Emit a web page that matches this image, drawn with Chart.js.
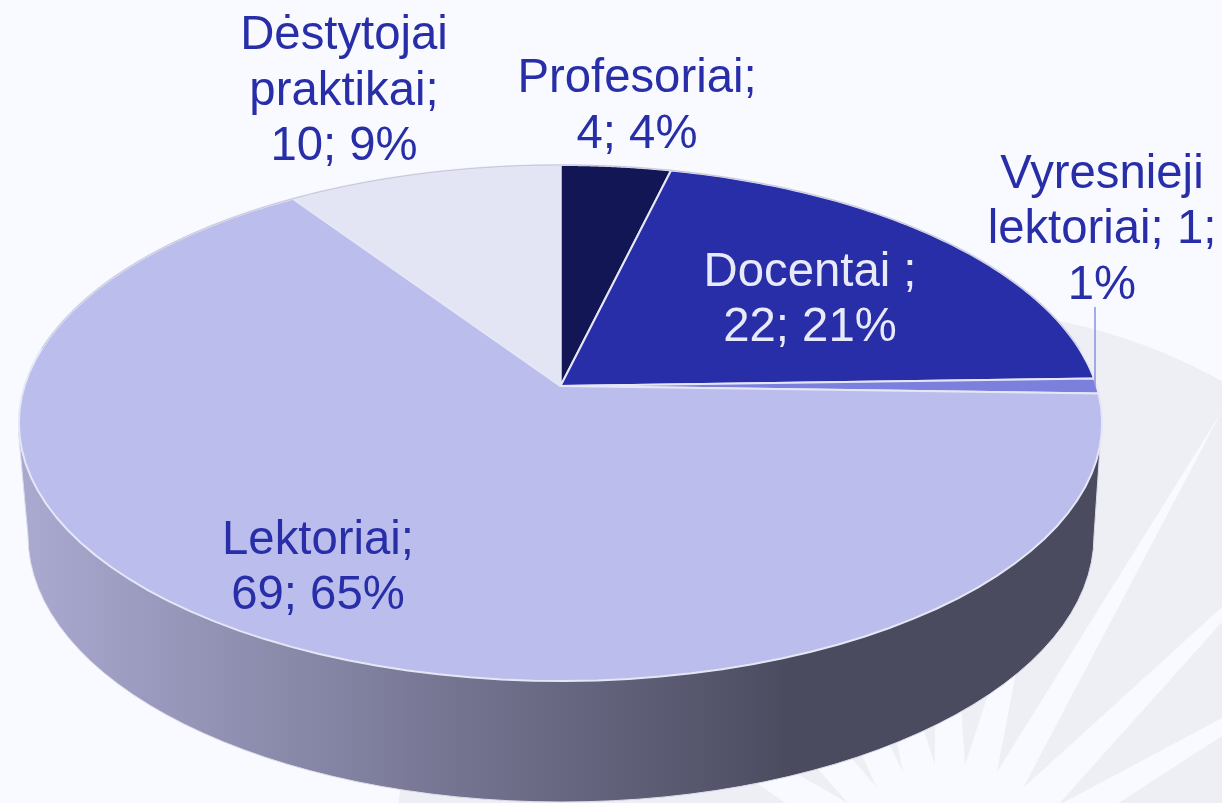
<!DOCTYPE html>
<html>
<head>
<meta charset="utf-8">
<style>
  html, body { margin: 0; padding: 0; background: #f8faff; overflow: hidden; }
  canvas { display: block; }
</style>
<script src="https://cdn.jsdelivr.net/npm/chart.js@4/dist/chart.umd.js"></script>
</head>
<body>
<canvas id="pieChart" width="1222" height="803"></canvas>
<script>
// ---- Data ----
const categories = ["Profesoriai", "Docentai", "Vyresnieji lektoriai", "Lektoriai", "Dėstytojai praktikai"];
const values = [4, 22, 1, 69, 10];
const sliceColors = ["#131654", "#282ea8", "#7b80dc", "#bbbdec", "#e3e4f4"];
const labelLines = [
  ["Profesoriai;", "4; 4%"],
  ["Docentai ;", "22; 21%"],
  ["Vyresnieji", "lektoriai; 1;", "1%"],
  ["Lektoriai;", "69; 65%"],
  ["Dėstytojai", "praktikai;", "10; 9%"]
];
const labelColors = ["#282ea8", "#e9eaf9", "#282ea8", "#282ea8", "#282ea8"];

// label anchors: centre x, first baseline y
const labelSpots = [[637, 92.3], [810, 285.5], [1102, 187.5], [318, 553.5], [344, 49]];
const lineHeight = 55.5;

// ---- Perspective of the pie plane ----
const apexX = 560.5, apexY = 386, spreadX = 536, spreadY = 252.7, tilt = 0.1434;

function project(angle) {
  const u = Math.cos(angle), v = -Math.sin(angle);
  const w = 1 + tilt * v;
  return [apexX + spreadX * u / w, apexY - spreadY * v / w];
}

// the library still calls draw for every slice, only the outline is projected
Chart.ArcElement.prototype.draw = function (ctx) {
  const opts = this.options;
  const steps = 80;
  ctx.save();
  ctx.beginPath();
  ctx.moveTo(apexX, apexY);
  for (let i = 0; i <= steps; i++) {
    const p = project(this.startAngle + (this.endAngle - this.startAngle) * i / steps);
    ctx.lineTo(p[0], p[1]);
  }
  ctx.closePath();
  ctx.fillStyle = opts.backgroundColor;
  ctx.fill();
  ctx.lineJoin = "round";
  ctx.strokeStyle = opts.borderColor;
  ctx.lineWidth = opts.borderWidth;
  ctx.stroke();
  ctx.restore();
};

// ---- Faint watermark behind the chart ----
const starX = 950, starY = 865;
const bgRays = [
  [[997, 772], [1222, 411], [1023, 788]],
  [[1023, 788], [1222, 607], [1222, 622], [1057, 806]],
  [[1057, 806], [1222, 718], [1222, 736], [1114, 806]],
  [[965, 765], [1045, 520], [997, 772]],
  [[935, 765], [935, 300], [965, 765]],
  [[903, 772], [850, 500], [935, 765]],
  [[877, 788], [855, 740], [885, 735], [903, 772]],
  [[848, 803], [810, 760], [845, 750], [877, 788]],
  [[790, 806], [755, 782], [790, 770], [848, 803]]
];

const watermark = {
  id: "watermark",
  beforeDraw(chart) {
    const ctx = chart.ctx;
    ctx.save();
    ctx.fillStyle = "#f8faff";
    ctx.fillRect(0, 0, chart.width, chart.height);
    ctx.fillStyle = "#eeeff4";
    ctx.beginPath();
    ctx.arc(starX, starY, 555, 0, Math.PI * 2);
    ctx.fill();
    ctx.fillStyle = "#f8faff";
    ctx.beginPath();
    bgRays.forEach(ray => {
      ctx.moveTo(starX, starY);
      ray.forEach(p => ctx.lineTo(p[0], p[1]));
      ctx.closePath();
    });
    ctx.fill();
    ctx.restore();
  }
};

// ---- Side wall of the 3D pie ----
const pieWall = {
  id: "pieWall",
  beforeDatasetsDraw(chart) {
    const ctx = chart.ctx;
    const grad = ctx.createLinearGradient(30, 0, 790, 0);
    grad.addColorStop(0, "#a9a9d0");
    grad.addColorStop(1, "#4b4b60");
    ctx.save();
    ctx.beginPath();
    ctx.moveTo(18.5, 432);
    ctx.lineTo(28, 536);
    ctx.ellipse(561, 536, 533, 266, 0, Math.PI, 0, true);
    ctx.lineTo(1101, 432);
    ctx.closePath();
    ctx.fillStyle = grad;
    ctx.fill();
    ctx.strokeStyle = "#dcdcea";
    ctx.lineWidth = 1;
    ctx.stroke();
    ctx.restore();
  },
  afterDatasetsDraw(chart) {
    // thin grey edge along the back of the top face
    const ctx = chart.ctx;
    ctx.save();
    ctx.beginPath();
    for (let i = 0; i <= 160; i++) {
      const p = project(Math.PI + 0.15 + (Math.PI - 0.3) * i / 160);
      i ? ctx.lineTo(p[0], p[1]) : ctx.moveTo(p[0], p[1]);
    }
    ctx.strokeStyle = "#c6c7d6";
    ctx.lineWidth = 1;
    ctx.stroke();
    ctx.restore();
  }
};

// ---- Labels and the leader line ----
const pieLabels = {
  id: "pieLabels",
  afterDraw(chart) {
    const ctx = chart.ctx;
    ctx.save();
    ctx.strokeStyle = "#8a8fe0";
    ctx.lineWidth = 1.5;
    ctx.beginPath();
    ctx.moveTo(1095, 307);
    ctx.lineTo(1095, 386);
    ctx.stroke();
    ctx.font = '47.3px "Liberation Sans", Arial, sans-serif';
    ctx.textAlign = "center";
    ctx.textBaseline = "alphabetic";
    labelLines.forEach((lines, i) => {
      ctx.fillStyle = labelColors[i];
      lines.forEach((line, j) => {
        ctx.fillText(line, labelSpots[i][0], labelSpots[i][1] + j * lineHeight);
      });
    });
    ctx.restore();
  }
};

new Chart(document.getElementById("pieChart").getContext("2d"), {
  type: "pie",
  data: {
    labels: categories,
    datasets: [{
      data: values,
      backgroundColor: sliceColors,
      borderColor: "#e6e7f6",
      borderWidth: 2
    }]
  },
  options: {
    responsive: false,
    animation: false,
    events: [],
    plugins: {
      legend: { display: false },
      tooltip: { enabled: false }
    }
  },
  plugins: [watermark, pieWall, pieLabels]
});
</script>
</body>
</html>
